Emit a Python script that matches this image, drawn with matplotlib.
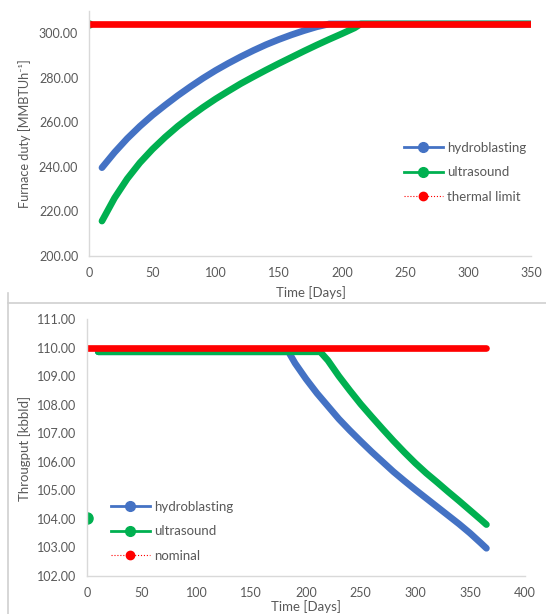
import matplotlib.pyplot as plt
from matplotlib.lines import Line2D

# furnace duty (top panel)
duty_days_hydro = [10, 20, 30, 40, 50, 60, 70, 80, 90, 100, 110, 120, 130, 140, 150, 160, 170, 180, 190, 350]
duty_hydro = [239.6, 246.5, 252.7, 258.2, 263.2, 267.7, 272.0, 276.0, 279.8, 283.3, 286.5, 289.5,
              292.3, 294.9, 297.2, 299.3, 301.2, 302.9, 304.2, 304.2]
duty_days_ultra = [10, 20, 30, 40, 50, 60, 70, 80, 90, 100, 110, 120, 130, 140, 150, 160, 170, 180,
                   190, 200, 210, 215, 350]
duty_ultra = [215.6, 226.0, 234.6, 241.8, 247.9, 253.3, 258.2, 262.6, 266.7, 270.5, 274.0, 277.4,
              280.5, 283.5, 286.4, 289.2, 292.0, 294.7, 297.3, 299.8, 302.4, 304.2, 304.2]
limit_days = [0, 350]
thermal_limit = [304.2, 304.2]
duty_ultra_start = (0, 304.2)

# throughput (bottom panel)
thr_days_hydro = [10, 184, 190, 200, 210, 220, 230, 240, 250, 260, 270, 280, 290, 300, 310, 320,
                  330, 340, 350, 360, 365]
thr_hydro = [109.85, 109.85, 109.45, 108.9, 108.4, 107.95, 107.5, 107.1, 106.72, 106.35, 106.0,
             105.65, 105.33, 105.02, 104.72, 104.42, 104.12, 103.82, 103.5, 103.15, 102.97]
thr_days_ultra = [10, 213, 220, 230, 240, 250, 260, 270, 280, 290, 300, 310, 320, 330, 340, 350,
                  360, 365]
thr_ultra = [109.85, 109.85, 109.55, 109.0, 108.5, 108.02, 107.58, 107.15, 106.73, 106.33, 105.95,
             105.6, 105.28, 104.95, 104.63, 104.3, 103.97, 103.8]
nominal_days = [0, 365]
nominal = [110, 110]
thr_ultra_start = (0, 104.04)

blue = '#4472C4'
green = '#00B050'
red = '#FF0000'
grey_txt = '#595959'

plt.rcParams['font.family'] = ['Lato', 'DejaVu Sans']

fig = plt.figure(figsize=(5.46, 6.14), dpi=100)
ax1 = fig.add_axes([0.1636, 0.5834, 0.8095, 0.3986])
ax2 = fig.add_axes([0.1599, 0.0619, 0.8011, 0.4186])

lw = 4.8
for ax in (ax1, ax2):
    for s in ('top', 'right'):
        ax.spines[s].set_visible(False)
    for s in ('left', 'bottom'):
        ax.spines[s].set_color('#d9d9d9')
        ax.spines[s].set_linewidth(1.0)
    ax.tick_params(length=0, labelsize=9, colors=grey_txt, pad=8)

# top panel
ax1.plot(duty_days_hydro, duty_hydro, color=blue, lw=lw, solid_capstyle='round')
ax1.plot(duty_days_ultra, duty_ultra, color=green, lw=lw, solid_capstyle='round')
ax1.plot(*duty_ultra_start, 'o', color=green, ms=5)
ax1.plot(limit_days, thermal_limit, color=red, lw=lw, solid_capstyle='round')
ax1.set_xlim(0, 350)
ax1.set_ylim(200, 310)
ax1.set_xticks(range(0, 351, 50))
ax1.set_yticks(range(200, 301, 20))
ax1.set_yticklabels(['%.2f' % v for v in range(200, 301, 20)])

# bottom panel
ax2.plot(thr_days_hydro, thr_hydro, color=blue, lw=lw, solid_capstyle='round')
ax2.plot(thr_days_ultra, thr_ultra, color=green, lw=lw, solid_capstyle='round')
ax2.plot(*thr_ultra_start, 'o', color=green, ms=8)
ax2.plot(nominal_days, nominal, color=red, lw=lw, solid_capstyle='round')
ax2.set_xlim(0, 400)
ax2.set_ylim(102, 111)
ax2.set_xticks(range(0, 401, 50))
ax2.set_yticks(range(102, 112))
ax2.set_yticklabels(['%.2f' % v for v in range(102, 112)])


def handles(last):
    return [Line2D([], [], color=blue, lw=2, marker='o', ms=7, label='hydroblasting'),
            Line2D([], [], color=green, lw=2, marker='o', ms=7, label='ultrasound'),
            Line2D([], [], color=red, lw=0.8, ls=':', marker='o', ms=6, label=last)]


leg_kw = dict(frameon=False, fontsize=9.5, handlelength=3.0, handletextpad=0.3,
              labelspacing=0.95, borderpad=0, labelcolor=grey_txt)
ax1.legend(handles=handles('thermal limit'), loc='upper left',
           bbox_to_anchor=(397 / 546, 1 - 135 / 614), bbox_transform=fig.transFigure, **leg_kw)
ax2.legend(handles=handles('nominal'), loc='upper left',
           bbox_to_anchor=(104 / 546, 1 - 494 / 614), bbox_transform=fig.transFigure, **leg_kw)

# axis titles
fig.text(25 / 546, 1 - 134 / 614, 'Furnace duty [MMBTUh⁻¹]', rotation=90, ha='center', va='center',
         fontsize=9.2, color=grey_txt)
fig.text(311 / 546, 1 - 293 / 614, 'Time [Days]', ha='center', va='center', fontsize=9.5, color=grey_txt)
fig.text(25 / 546, 1 - 448 / 614, 'Througput [kbbld]', rotation=90, ha='center', va='center',
         fontsize=9.5, color=grey_txt)
fig.text(306 / 546, 1 - 607 / 614, 'Time [Days]', ha='center', va='center', fontsize=9.5, color=grey_txt)

# panel frame lines
fig.add_artist(Line2D([8 / 546, 1], [1 - 303 / 614] * 2, color='#d0d0d0', lw=1.2))
fig.add_artist(Line2D([8 / 546] * 2, [1 - 293 / 614, 0], color='#d0d0d0', lw=1.2))

plt.savefig('out.png', dpi=100)
